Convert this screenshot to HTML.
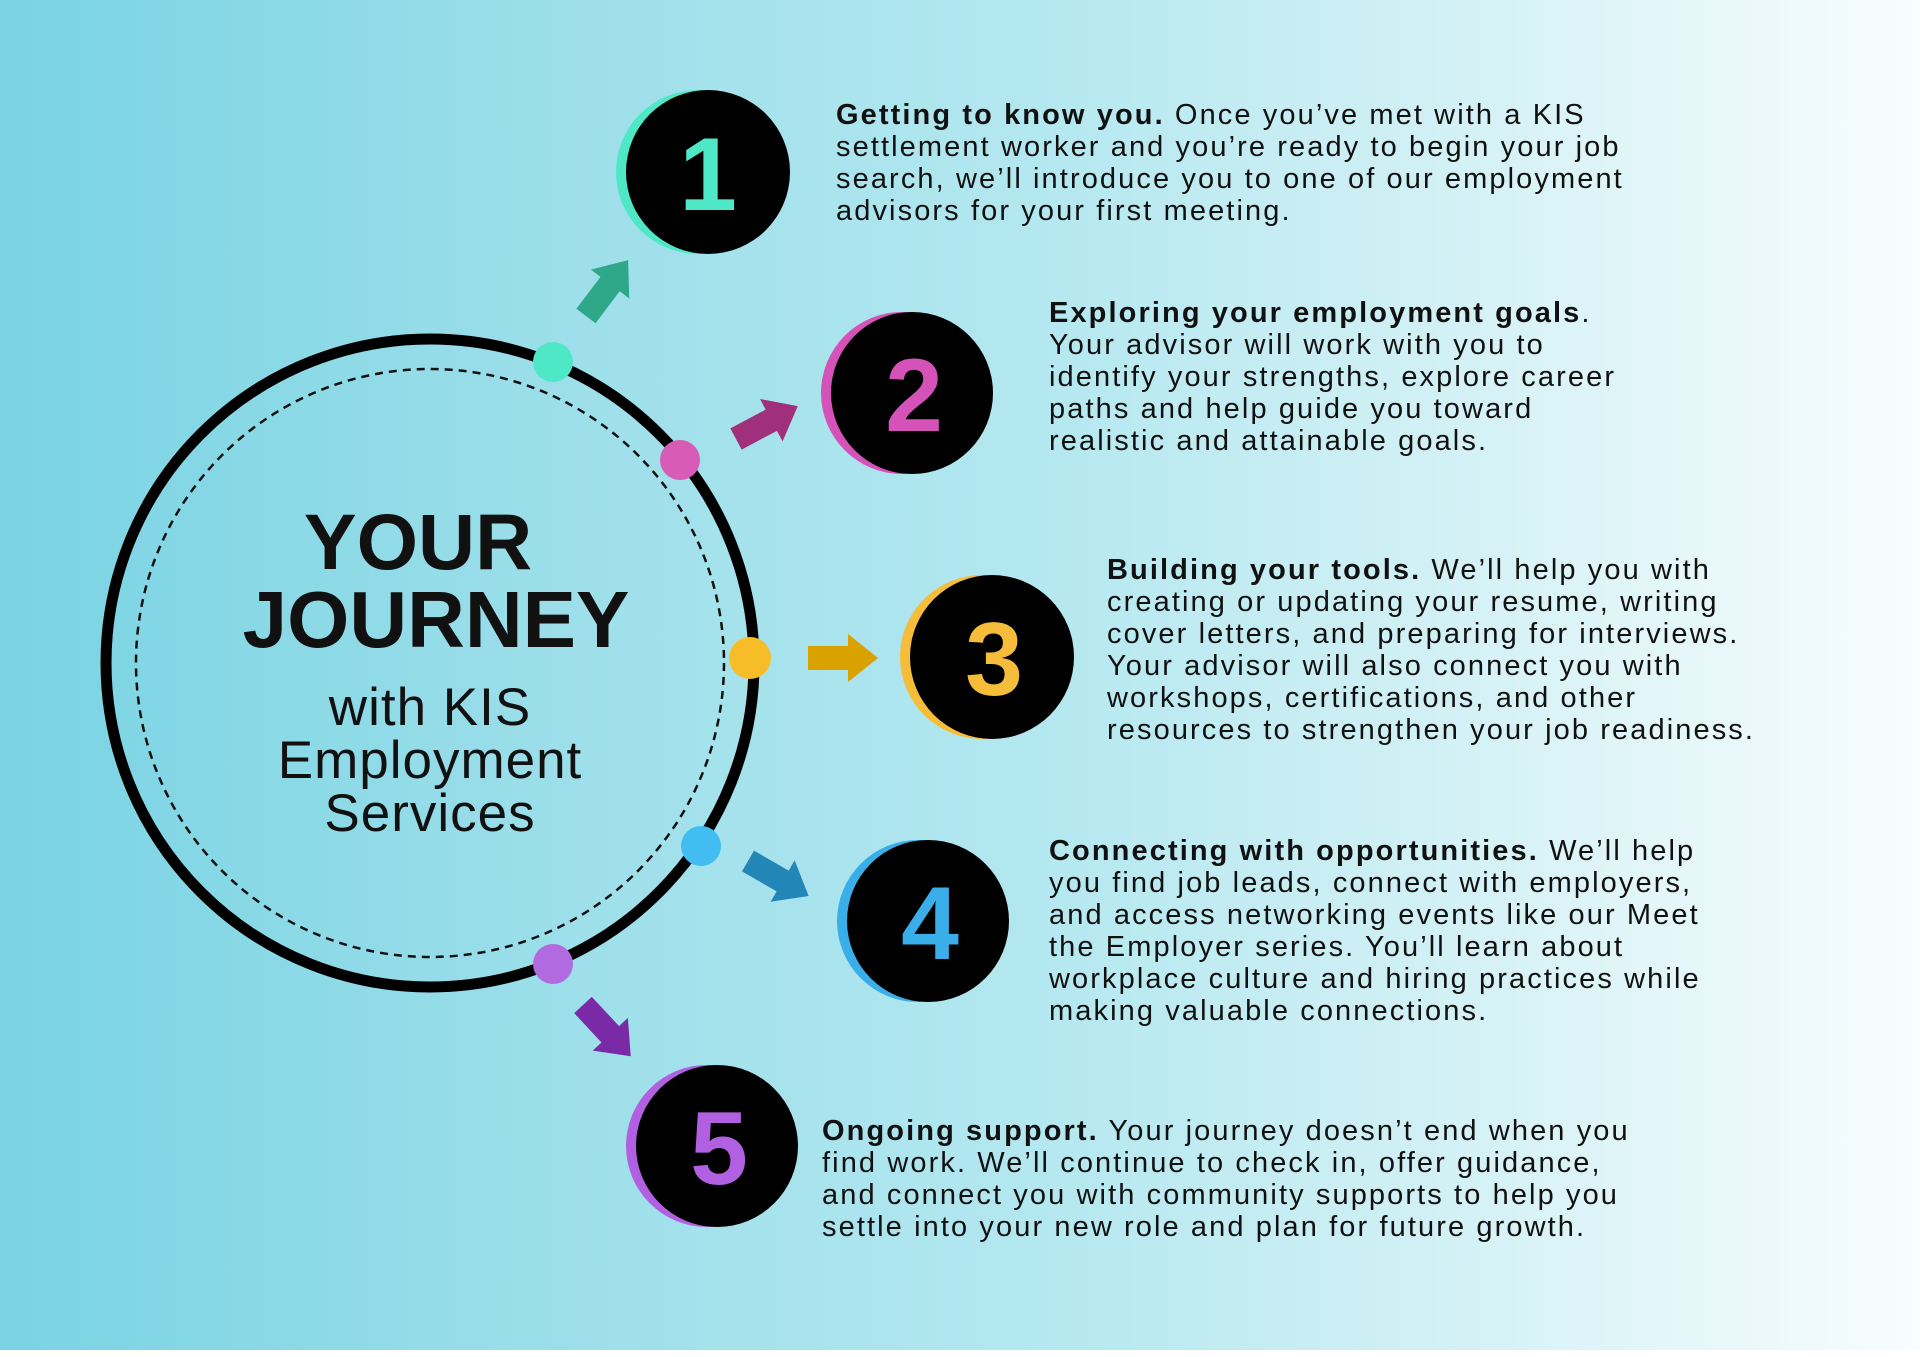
<!DOCTYPE html>
<html><head><meta charset="utf-8"><style>
html,body{margin:0;padding:0}
body{width:1920px;height:1357px;overflow:hidden;position:relative;
background:linear-gradient(to right,#79d3e3 0%,#9ddfea 30%,#b5e8f0 55%,#d6f2f6 78%,#f8fdfe 100%);
font-family:"Liberation Sans",sans-serif;}
.t{position:absolute;font-size:29px;line-height:32px;letter-spacing:2.1px;color:#111;white-space:nowrap}
.t b{font-weight:bold}
.h{position:absolute;text-align:center;color:#111;white-space:nowrap;left:180px;width:500px}
</style></head><body>
<svg width="1920" height="1357" style="position:absolute;left:0;top:0">
<defs>
<polygon id="ar" points="0,-12 40,-12 40,-24 70,0 40,24 40,12 0,12"/>
</defs>
<circle cx="430" cy="663" r="324" fill="none" stroke="#000" stroke-width="11"/>
<circle cx="430" cy="663" r="294" fill="none" stroke="#111" stroke-width="2.5" stroke-dasharray="8,6"/>
<circle cx="553" cy="362" r="20" fill="#4ee8c6"/>
<circle cx="680" cy="460" r="20" fill="#d85bb6"/>
<circle cx="750" cy="658" r="21" fill="#f6bd28"/>
<circle cx="701" cy="846" r="20" fill="#42bdf2"/>
<circle cx="553" cy="964" r="20" fill="#b16ae0"/>
<use href="#ar" fill="#2fa889" transform="translate(586,316) rotate(-53)"/>
<use href="#ar" fill="#a02f7c" transform="translate(736,439) rotate(-28)"/>
<use href="#ar" fill="#d9a200" transform="translate(808,658)"/>
<use href="#ar" fill="#2287b6" transform="translate(748,861) rotate(30)"/>
<use href="#ar" fill="#7a2aa6" transform="translate(583,1005) rotate(47)"/>
<circle cx="698" cy="172" r="82" fill="#4ee8c6"/><circle cx="708" cy="172" r="82" fill="#000"/>
<circle cx="902" cy="393" r="81" fill="#d552b8"/><circle cx="912" cy="393" r="81" fill="#000"/>
<circle cx="982" cy="657" r="82" fill="#f6bd3a"/><circle cx="992" cy="657" r="82" fill="#000"/>
<circle cx="918" cy="921" r="81" fill="#3aaee8"/><circle cx="928" cy="921" r="81" fill="#000"/>
<circle cx="707" cy="1146" r="81" fill="#b060e0"/><circle cx="717" cy="1146" r="81" fill="#000"/>
<g font-family="Liberation Sans,sans-serif" font-size="104" font-weight="bold" text-anchor="middle">
<text x="708" y="210" fill="#4ee8c6">1</text>
<text x="914" y="431" fill="#d552b8">2</text>
<text x="994" y="695" fill="#f6bd3a">3</text>
<text x="930" y="959" fill="#3aaee8">4</text>
<text x="719" y="1184" fill="#b060e0">5</text>
</g>
</svg>
<div class="h" style="top:502px;font-size:79px;font-weight:bold;line-height:80px;left:168px">YOUR</div>
<div class="h" style="top:580px;font-size:80px;font-weight:bold;line-height:80px;left:186px">JOURNEY</div>
<div class="h" style="top:681px;font-size:53px;line-height:53px;letter-spacing:1px">with KIS<br>Employment<br>Services</div>
<div class="t" style="left:836px;top:99px"><b>Getting to know you.</b> Once you’ve met with a KIS<br>settlement worker and you’re ready to begin your job<br>search, we’ll introduce you to one of our employment<br>advisors for your first meeting.</div>
<div class="t" style="left:1049px;top:297px"><b>Exploring your employment goals</b>.<br>Your advisor will work with you to<br>identify your strengths, explore career<br>paths and help guide you toward<br>realistic and attainable goals.</div>
<div class="t" style="left:1107px;top:554px"><b>Building your tools.</b> We’ll help you with<br>creating or updating your resume, writing<br>cover letters, and preparing for interviews.<br>Your advisor will also connect you with<br>workshops, certifications, and other<br>resources to strengthen your job readiness.</div>
<div class="t" style="left:1049px;top:835px"><b>Connecting with opportunities.</b> We’ll help<br>you find job leads, connect with employers,<br>and access networking events like our Meet<br>the Employer series. You’ll learn about<br>workplace culture and hiring practices while<br>making valuable connections.</div>
<div class="t" style="left:822px;top:1115px"><b>Ongoing support.</b> Your journey doesn’t end when you<br>find work. We’ll continue to check in, offer guidance,<br>and connect you with community supports to help you<br>settle into your new role and plan for future growth.</div>
<div style="position:absolute;left:0;top:1350px;width:1920px;height:7px;background:#fff"></div>
</body></html>
